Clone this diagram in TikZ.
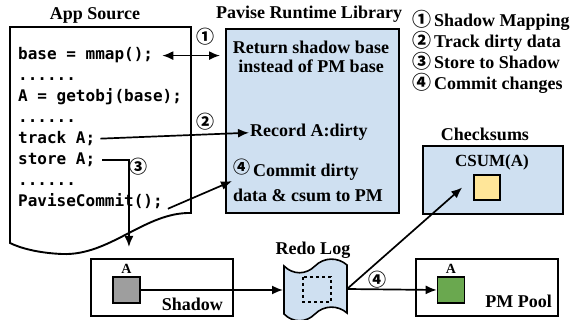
\documentclass[tikz,border=0pt]{standalone}
\usepackage{fontspec}
\setmainfont{Liberation Serif}
\newfontfamily\codefont{DejaVu Sans Mono}
\newfontfamily\circfont{Noto Sans CJK SC}
\usetikzlibrary{arrows.meta}

\definecolor{paleblue}{RGB}{207,224,241}
\definecolor{paleyellow}{RGB}{255,230,153}
\definecolor{blockgrey}{RGB}{158,158,158}
\definecolor{blockgreen}{RGB}{106,168,79}

\newcommand{\circnum}[2]{{\circfont\fontsize{#1}{#1}\selectfont #2}}

\begin{document}
\begin{tikzpicture}[x=1pt,y=-1pt,
  heading/.style={font=\fontsize{18}{20}\selectfont\bfseries, anchor=base, inner sep=0pt},
  txt/.style={font=\fontsize{18}{20}\selectfont\bfseries, inner sep=0pt},
  codeline/.style={font=\fontsize{16}{18}\codefont\bfseries, anchor=base west, inner sep=0pt},
  num/.style={font=\fontsize{18}{18}\circfont\bfseries, inner sep=0pt},
  frame/.style={draw, line width=1.9pt},
  block/.style={draw, line width=1.6pt, minimum width=27pt, minimum height=26pt, inner sep=0pt},
  flow/.style={line width=1.7pt, -{Latex[length=11pt,width=9pt]}},
  biflow/.style={line width=1.7pt, {Latex[length=11pt,width=9pt]}-{Latex[length=11pt,width=9pt]}},
]
\useasboundingbox (0,0) rectangle (574,320);

% application source listing (document shape)
\draw[frame, fill=white] (10,27) -- (191,27) -- (191,213)
  .. controls (145,212) and (110,256) .. (62,254)
  .. controls (38,253) and (20,248) .. (10,243) -- cycle;
\node[heading] (apptitle) at (95,20) {App Source};

\node[codeline] (l1) at (18,60.0)  {base = mmap();};
\node[codeline] (l2) at (18,80.9)  {......};
\node[codeline] (l3) at (18,101.8) {A = getobj(base);};
\node[codeline] (l4) at (18,122.7) {......};
\node[codeline] (l5) at (18,143.6) {track A;};
\node[codeline] (l6) at (18,164.5) {store A;};
\node[codeline] (l7) at (18,185.4) {......};
\node[codeline] (l8) at (18,206.3) {PaviseCommit();};

% runtime library
\node[frame, fill=paleblue, anchor=north west, minimum width=173pt, minimum height=184pt, inner sep=0pt] (pav) at (225,28) {};
\node[heading] (pavtitle) at (309,19) {Pavise Runtime Library};
\node[txt, anchor=base] (r1) at (311,54) {Return shadow base};
\node[txt, anchor=base] (r2) at (311,73) {instead of PM base};
\node[txt, anchor=base west] (rec) at (250,137) {Record A:dirty};
\node[txt, anchor=base west] (c1) at (233,177) {\raisebox{3pt}{\circnum{17}{④}}\,Commit dirty};
\node[txt, anchor=base] (c2) at (308,202) {data \& csum to PM};

% legend
\node[txt, anchor=base west] (g1) at (412,27) {\circnum{19}{①}\,Shadow Mapping};
\node[txt, anchor=base west] (g2) at (412,48) {\circnum{19}{②}\,Track dirty data};
\node[txt, anchor=base west] (g3) at (412,69) {\circnum{19}{③}\,Store to Shadow};
\node[txt, anchor=base west] (g4) at (412,90) {\circnum{19}{④}\,Commit changes};

% checksums
\node[heading] (cstitle) at (485,141) {Checksums};
\node[frame, fill=paleblue, anchor=north west, minimum width=140pt, minimum height=68pt, inner sep=0pt] (cs) at (422,145) {};
\node[txt, font=\fontsize{17}{18}\selectfont\bfseries, anchor=base] (csum) at (492,167) {CSUM(A)};
\node[block, fill=paleyellow, minimum width=26pt, minimum height=25pt] (ysq) at (487,187.5) {};

% shadow region
\node[frame, anchor=north west, minimum width=142pt, minimum height=57pt, inner sep=0pt] (shadow) at (90,258) {};
\node[block, fill=blockgrey] (gry) at (126.5,290) {};
\node[font=\fontsize{14}{14}\selectfont\bfseries, anchor=base, inner sep=0pt] (ga) at (126.5,274) {A};
\node[txt, anchor=base east] (shlabel) at (223,311) {Shadow};

% persistent memory pool
\node[frame, anchor=north west, minimum width=142pt, minimum height=57pt, inner sep=0pt] (pool) at (415,258) {};
\node[block, fill=blockgreen] (grn) at (451,290) {};
\node[font=\fontsize{14}{14}\selectfont\bfseries, anchor=base, inner sep=0pt] (pa) at (451,274) {A};
\node[txt, anchor=base east] (poollabel) at (552,308) {PM Pool};

% redo log (tape shape)
\coordinate (logW) at (283,290);
\coordinate (logE) at (347,289);
\draw[line width=1.6pt, fill=paleblue] (284,266)
  .. controls (293,275) and (306,275) .. (315,266)
  .. controls (324,257) and (338,257) .. (347,265) -- (347,313)
  .. controls (338,305) and (324,305) .. (315,314)
  .. controls (306,323) and (293,323) .. (284,314) -- cycle;
\draw[line width=1.3pt, dashed] (303,277) rectangle (331,302);
\node[heading] (logtitle) at (313,255) {Redo Log};

% connectors
\draw[biflow, shorten >=5pt] ([xshift=9pt]l1.east) -- (l1.east -| pav.west);
\node[num] (n1) at (205,37) {①};
\draw[flow, shorten >=1pt] ([xshift=5pt]l5.east) -- (rec.west);
\node[num] (n2) at (205,122) {②};
\draw[flow, shorten >=11pt] ([xshift=7pt]l6.east) -| ([xshift=-33pt]shadow.north);
\node[num] (n3) at (138,167) {③};
\draw[flow] ([xshift=5pt]l8.south east) -- ([xshift=-1pt]c1.south west);

\draw[flow] (gry.east) -- (logW);
\draw[flow] (logE) -- (grn.west);
\draw[flow] (logE) -- ([xshift=-11pt]ysq.west);
\node[num] (n4) at (377,280) {④};
\end{tikzpicture}
\end{document}
